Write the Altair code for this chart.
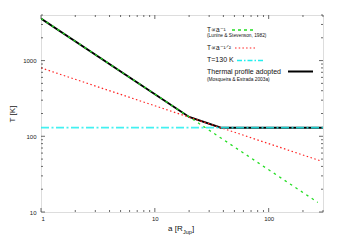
import altair as alt
import pandas as pd

# ---- data ----
a_green = [1, 270]
T_green = [3600, 13.4]
a_red = [1, 290]
T_red = [800, 47]
a_cyan = [1, 300]
T_cyan = [130, 130]
a_black = [1, 20, 38, 300]
T_black = [3600, 180, 130, 130]

x_major = [1, 10, 100]
x_minor = [2, 3, 4, 5, 6, 7, 8, 9, 20, 30, 40, 50, 60, 70, 80, 90, 200, 300]
y_major = [10, 100, 1000]
y_minor = [20, 30, 40, 50, 60, 70, 80, 90, 200, 300, 400, 500, 600, 700, 800, 900,
           2000, 3000, 4000]

W, H = 282, 197
FONT = "Liberation Sans"

xs = alt.Scale(type="log", domain=[1, 300], nice=False)
ys = alt.Scale(type="log", domain=[10, 4000], nice=False)


def line_df(a, t):
    return pd.DataFrame({"a": a, "T": t, "o": list(range(len(a)))})


xaxis = alt.Axis(values=x_major, format="d", ticks=False, domain=False, grid=False,
                 labelFontSize=6, labelPadding=3, labelColor="#222", labelFont=FONT,
                 title=None)
yaxis = alt.Axis(values=y_major, format="d", ticks=False, domain=False, grid=False,
                 labelFontSize=6, labelPadding=5, labelColor="#222", labelFont=FONT,
                 title="T [K]", titleFontSize=8, titleFont=FONT, titleFontWeight="normal",
                 titlePadding=6, titleColor="#222")

black = alt.Chart(line_df(a_black, T_black)).mark_line(
    color="black", strokeWidth=2, clip=True
).encode(
    x=alt.X("a:Q", scale=xs, axis=xaxis),
    y=alt.Y("T:Q", scale=ys, axis=yaxis),
    order="o:Q",
)

green = alt.Chart(line_df(a_green, T_green)).mark_line(
    color="#22dd22", strokeWidth=1.3, strokeDash=[2.5, 4], clip=True
).encode(x=alt.X("a:Q", scale=xs), y=alt.Y("T:Q", scale=ys), order="o:Q")

red = alt.Chart(line_df(a_red, T_red)).mark_line(
    color="#ff2222", strokeWidth=1.2, strokeDash=[1.5, 2.5], clip=True
).encode(x=alt.X("a:Q", scale=xs), y=alt.Y("T:Q", scale=ys), order="o:Q")

cyan = alt.Chart(line_df(a_cyan, T_cyan)).mark_line(
    color="#22eeee", strokeWidth=1.8, strokeDash=[8, 2.5, 2, 2.5], clip=True, opacity=0.85
).encode(x=alt.X("a:Q", scale=xs), y=alt.Y("T:Q", scale=ys), order="o:Q")

# ---- inward ticks on all four sides ----
def xticks(vals, ln):
    df = pd.DataFrame({"a": vals})
    bot = alt.Chart(df).mark_rule(color="#444", strokeWidth=0.8).encode(
        x=alt.X("a:Q", scale=xs), y=alt.value(H), y2=alt.value(H - ln))
    top = alt.Chart(df).mark_rule(color="#444", strokeWidth=0.8).encode(
        x=alt.X("a:Q", scale=xs), y=alt.value(0), y2=alt.value(ln))
    return [bot, top]


def yticks(vals, ln):
    df = pd.DataFrame({"T": vals})
    left = alt.Chart(df).mark_rule(color="#444", strokeWidth=0.8).encode(
        y=alt.Y("T:Q", scale=ys), x=alt.value(0), x2=alt.value(ln))
    right = alt.Chart(df).mark_rule(color="#444", strokeWidth=0.8).encode(
        y=alt.Y("T:Q", scale=ys), x=alt.value(W), x2=alt.value(W - ln))
    return [left, right]


ticks = xticks(x_major, 4) + xticks(x_minor, 2) + yticks(y_major, 4) + yticks(y_minor, 2)

# ---- legend (inside, upper right) ----
leg_text = pd.DataFrame({
    "txt": ["T\u221da\u207b\u00b9", "(Lunine & Stevenson, 1982)", "T\u221da",
            "T=130 K", "Thermal profile adopted", "(Mosqueira & Estrada 2003a)"],
    "px": [166, 166, 166, 166, 166, 166],
    "py": [15, 21, 33, 45, 56.5, 65],
    "fs": [6.5, 4.8, 6.5, 7, 7, 4.8],
})
legend_txt = alt.Chart(leg_text).mark_text(
    align="left", baseline="middle", font=FONT, color="#111"
).encode(
    x=alt.X("px:Q", scale=None), y=alt.Y("py:Q", scale=None),
    text="txt:N", size=alt.Size("fs:Q", scale=None, legend=None),
)
sup = alt.Chart(pd.DataFrame({"t": ["\u207b\u00b9\u141f\u00b2"]})).mark_text(
    align="left", baseline="middle", font=FONT, color="#111", fontSize=6.5
).encode(x=alt.value(178.5), y=alt.value(33), text="t:N")

def sample(x1, x2, yy, **kw):
    return alt.Chart(pd.DataFrame({"k": [0]})).mark_rule(**kw).encode(
        x=alt.value(x1), x2=alt.value(x2), y=alt.value(yy))

legend_lines = [
    sample(191, 213, 15, color="#22dd22", strokeWidth=1.4, strokeDash=[3, 3]),
    sample(194, 214, 33, color="#ff2222", strokeWidth=1.2, strokeDash=[1.5, 2.2]),
    sample(196, 222, 45.5, color="#22eeee", strokeWidth=1.6, strokeDash=[5, 2, 1.5, 2]),
    sample(247, 272, 56.5, color="black", strokeWidth=2),
]

# ---- x axis title with subscript ----
xt1 = alt.Chart(pd.DataFrame({"t": ["a [R"]})).mark_text(
    align="left", baseline="middle", font=FONT, fontSize=8, color="#111"
).encode(x=alt.value(127), y=alt.value(214), text="t:N")
xt2 = alt.Chart(pd.DataFrame({"t": ["Jup"]})).mark_text(
    align="left", baseline="middle", font=FONT, fontSize=5.5, color="#111"
).encode(x=alt.value(142), y=alt.value(216.5), text="t:N")
xt3 = alt.Chart(pd.DataFrame({"t": ["]"]})).mark_text(
    align="left", baseline="middle", font=FONT, fontSize=8, color="#111"
).encode(x=alt.value(151), y=alt.value(214), text="t:N")

chart = alt.layer(
    black, red, cyan, green, *ticks, legend_txt, sup, *legend_lines, xt1, xt2, xt3
).properties(
    width=W, height=H,
    autosize=alt.AutoSizeParams(type="none"),
    padding={"left": 33, "top": 7, "right": 8, "bottom": 26},
).configure_view(
    stroke="#555", strokeWidth=1
).configure(background="white")

chart.save("out.html", embed_options={"renderer": "svg", "actions": False})
